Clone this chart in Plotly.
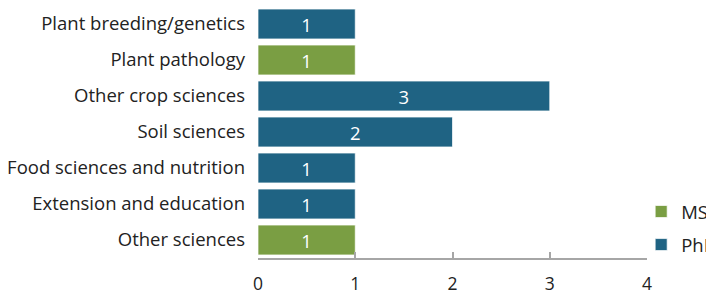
import plotly.graph_objects as go

categories = ["Plant breeding/genetics", "Plant pathology", "Other crop sciences",
              "Soil sciences", "Food sciences and nutrition", "Extension and education",
              "Other sciences"]
msc_values = [None, 1, None, None, None, None, 1]
phd_values = [1, None, 3, 2, 1, 1, None]
x_ticks = [0, 1, 2, 3, 4]

FONT = "Open Sans"
FS = 18.5
BLUE = "#1F6383"
GREEN = "#7A9E43"

fig = go.Figure()
for name, vals, col in [("MSc", msc_values, GREEN), ("PhD", phd_values, BLUE)]:
    fig.add_trace(go.Bar(
        name=name, y=categories, x=vals, orientation="h",
        marker=dict(color=col, line=dict(color="rgba(255,255,255,0.7)", width=1)),
        texttemplate="%{x}", textposition="inside", insidetextanchor="middle",
        textangle=0, textfont=dict(family=FONT, size=FS, color="white"),
        constraintext="none", legendgroup=name,
    ))

fig.update_layout(
    width=706, height=295,
    margin=dict(l=258, r=59, t=6, b=37, autoexpand=False),
    barmode="relative", bargap=0.17,
    paper_bgcolor="white", plot_bgcolor="white",
    font=dict(family=FONT, size=FS, color="#222"),
    showlegend=True,
    legend=dict(x=0.985, xanchor="left", y=0.258, yanchor="top",
                traceorder="grouped", tracegroupgap=6,
                font=dict(family=FONT, size=FS, color="#222"),
                bgcolor="rgba(0,0,0,0)"),
    xaxis=dict(range=[0, 4], tickvals=x_ticks, showgrid=False, zeroline=False,
               showline=True, linecolor="#A6A6A6", linewidth=1.5,
               ticks="inside", ticklen=6, tickcolor="#A6A6A6", tickwidth=1.5,
               tickfont=dict(family=FONT, size=17.5, color="#222"),
               ticklabelstandoff=9),
    yaxis=dict(categoryorder="array", categoryarray=categories, autorange="reversed",
               showgrid=False, zeroline=False, showline=False, ticks="",
               ticklabelstandoff=12),
)

fig.write_html("out.html", config={"displayModeBar": False},
               post_script="document.body.style.margin='0';document.body.style.overflow='hidden';")
